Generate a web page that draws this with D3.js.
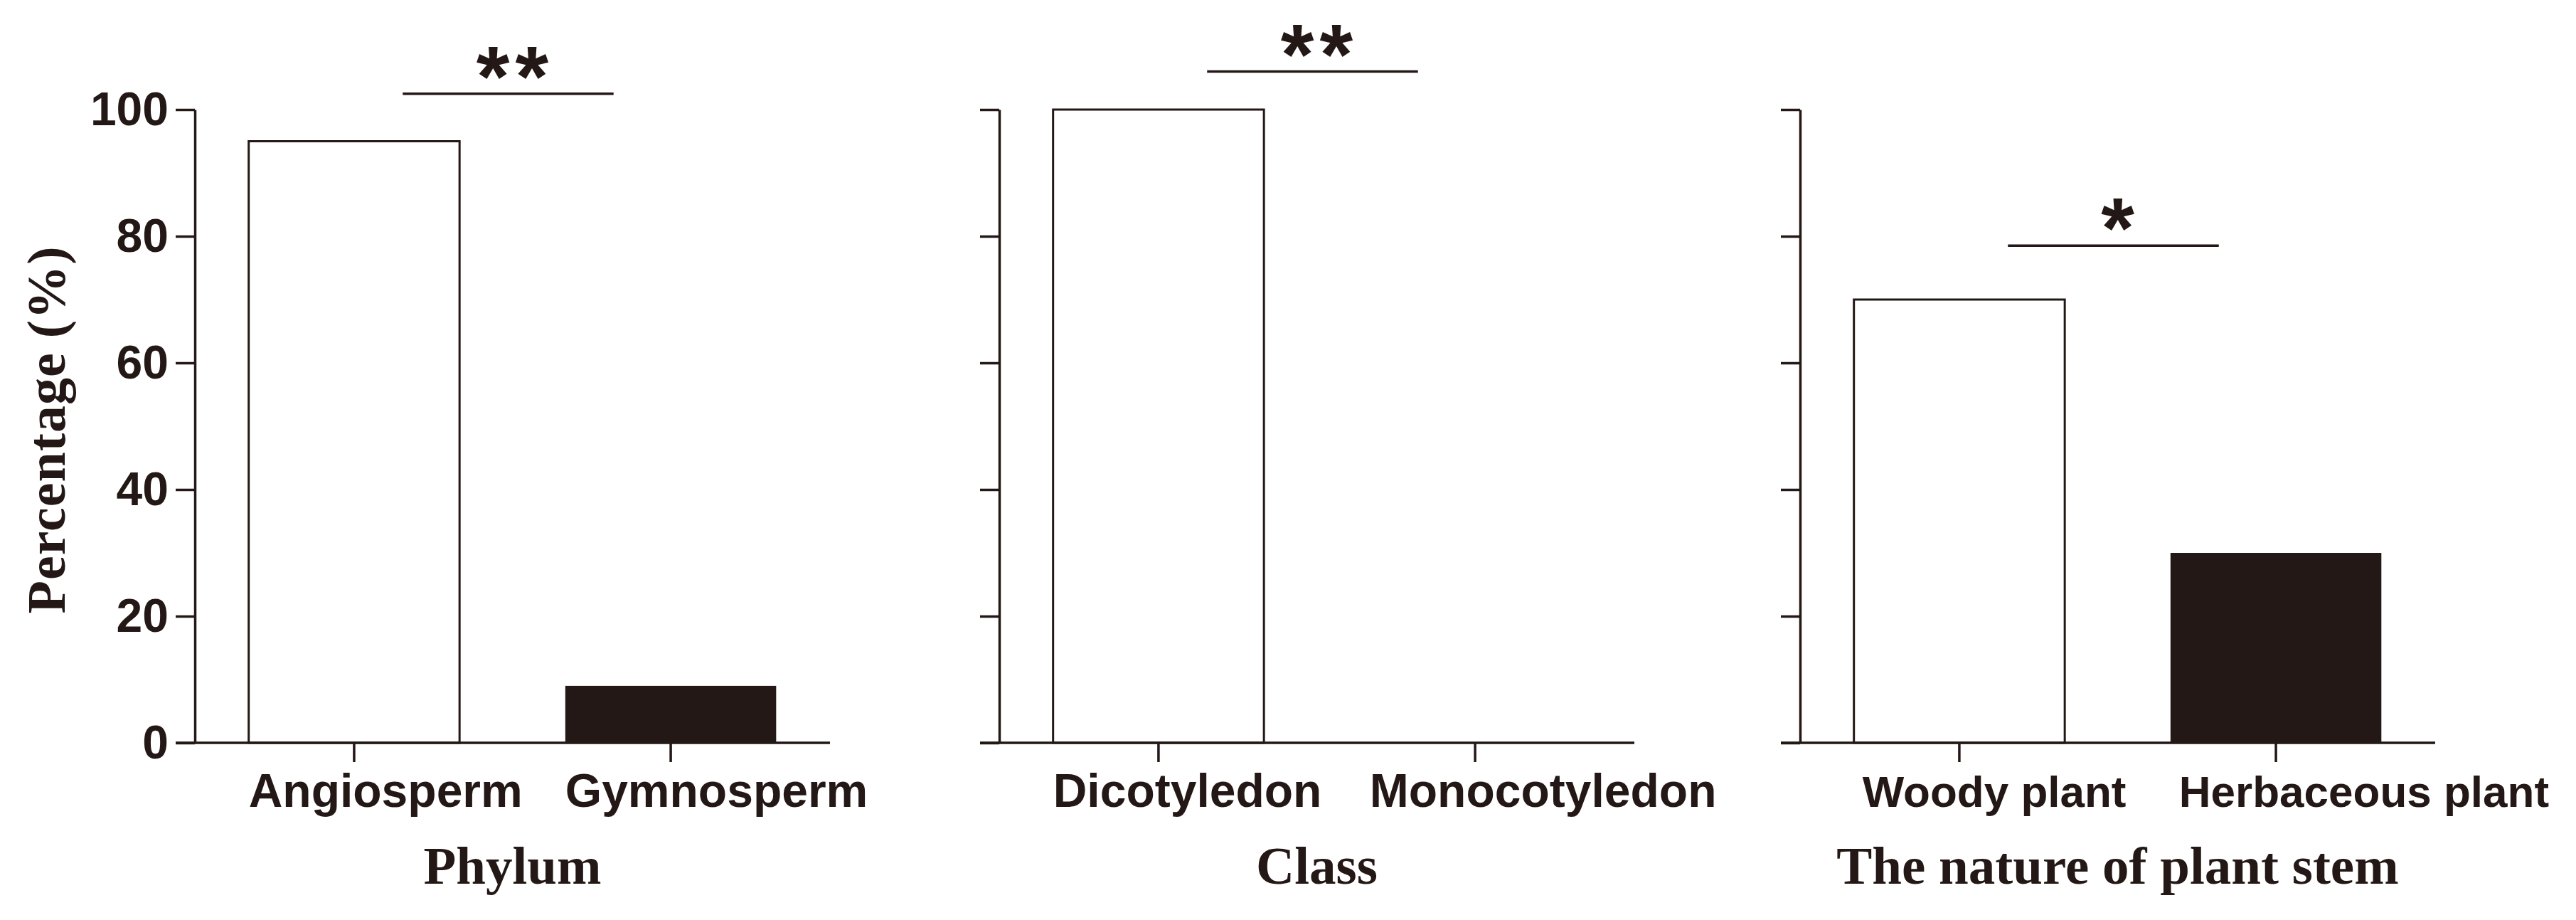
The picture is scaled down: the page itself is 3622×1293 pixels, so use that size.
<!DOCTYPE html>
<html>
<head>
<meta charset="utf-8">
<script src="https://cdn.jsdelivr.net/npm/d3@7"></script>
<style>
  html, body { margin: 0; padding: 0; background: #fff; }
  svg { display: block; }
</style>
</head>
<body>
<svg id="chart" width="3622" height="1293"></svg>
<script>
// ---------------- data ----------------
const phylumCategories = ["Angiosperm", "Gymnosperm"];
const phylumValues = [95, 9];
const classCategories = ["Dicotyledon", "Monocotyledon"];
const classValues = [100, 0];
const stemCategories = ["Woody plant", "Herbaceous plant"];
const stemValues = [70, 30];
const panelTitles = ["Phylum", "Class", "The nature of plant stem"];
const yTickValues = [0, 20, 40, 60, 80, 100];
const significanceLabels = ["**", "**", "*"];
const significanceHeights = [102.5, 106, 78.5];
const yAxisTitle = "Percentage (%)";

// ---------------- layout ----------------
const ink = "#231815";
const panelX = [274, 1405, 2531];
const plotW = 893;
const yTop = 154, yBottom = 1044;
const tickLen = 27;
const lw = 3.5;

const svg = d3.select("#chart");

const panels = [
  { cats: phylumCategories, vals: phylumValues, labelSize: 66, labelShift: 0 },
  { cats: classCategories, vals: classValues, labelSize: 66, labelShift: 0 },
  { cats: stemCategories, vals: stemValues, labelSize: 62, labelShift: 12 }
];

const y = d3.scaleLinear().domain([0, 100]).range([yBottom, yTop]);

panels.forEach((p, i) => {
  const g = svg.append("g").attr("transform", `translate(${panelX[i]},0)`);
  const x = d3.scaleBand().domain(p.cats).range([0, plotW])
    .paddingInner(0.334).paddingOuter(0.17);

  // bars
  g.selectAll("rect.bar").data(p.cats.map((c, k) => ({ c, v: p.vals[k], k })))
    .join("rect")
    .attr("class", "bar")
    .attr("x", d => x(d.c))
    .attr("width", x.bandwidth())
    .attr("y", d => y(d.v))
    .attr("height", d => yBottom - y(d.v))
    .attr("fill", d => d.k === 0 ? "#fff" : ink)
    .attr("stroke", d => d.k === 0 ? ink : "none")
    .attr("stroke-width", 3);

  // y axis
  const yAxis = d3.axisLeft(y).tickValues(yTickValues).tickSize(tickLen)
    .tickSizeOuter(0).tickPadding(10)
    .tickFormat(i === 0 ? d3.format("d") : () => "");
  const ya = g.append("g").call(yAxis);
  ya.select(".domain").attr("stroke", ink).attr("stroke-width", lw);
  ya.selectAll(".tick line").attr("stroke", ink).attr("stroke-width", lw);
  ya.selectAll(".tick text")
    .attr("fill", ink)
    .style("font-family", "'Liberation Sans', Arial, sans-serif")
    .style("font-weight", "bold")
    .style("font-size", "66px");

  // x axis
  const xAxis = d3.axisBottom(x).tickSize(tickLen).tickSizeOuter(0).tickFormat(() => "");
  const xa = g.append("g").attr("transform", `translate(0,${yBottom})`).call(xAxis);
  xa.select(".domain").attr("d", `M${-tickLen},0H${plotW}`)
    .attr("stroke", ink).attr("stroke-width", lw);
  xa.selectAll(".tick line").attr("stroke", ink).attr("stroke-width", lw);

  // category labels
  g.selectAll("text.cat").data(p.cats).join("text")
    .attr("class", "cat")
    .attr("x", d => x(d) + p.labelShift)
    .attr("y", 1134)
    .attr("text-anchor", "start")
    .attr("fill", ink)
    .style("font-family", "'Liberation Sans', Arial, sans-serif")
    .style("font-weight", "bold")
    .style("font-size", p.labelSize + "px")
    .text(d => d);

  // panel title
  g.append("text")
    .attr("x", plotW / 2)
    .attr("y", 1242)
    .attr("text-anchor", "middle")
    .attr("fill", ink)
    .style("font-family", "'Liberation Serif', 'Times New Roman', serif")
    .style("font-weight", "bold")
    .style("font-size", "75px")
    .text(panelTitles[i]);

  // significance bracket
  const c0 = x(p.cats[0]) + x.bandwidth() / 2;
  const c1 = x(p.cats[1]) + x.bandwidth() / 2;
  const mid = (c0 + c1) / 2 - 6;
  const sy = y(significanceHeights[i]);
  g.append("line")
    .attr("x1", mid - x.bandwidth() / 2).attr("x2", mid + x.bandwidth() / 2)
    .attr("y1", sy).attr("y2", sy)
    .attr("stroke", ink).attr("stroke-width", lw);
  g.append("text")
    .attr("x", mid + 6 + 4)
    .attr("y", sy + 17)
    .attr("text-anchor", "middle")
    .attr("fill", ink)
    .style("font-family", "'Liberation Sans', Arial, sans-serif")
    .style("font-weight", "bold")
    .style("font-size", "120px")
    .style("letter-spacing", "8px")
    .text(significanceLabels[i]);
});

// y axis title
svg.append("text")
  .attr("transform", "translate(91,604) rotate(-90)")
  .attr("text-anchor", "middle")
  .attr("fill", ink)
  .style("font-family", "'Liberation Serif', 'Times New Roman', serif")
  .style("font-weight", "bold")
  .style("font-size", "76px")
  .style("letter-spacing", "1px")
  .text(yAxisTitle);
</script>
</body>
</html>
